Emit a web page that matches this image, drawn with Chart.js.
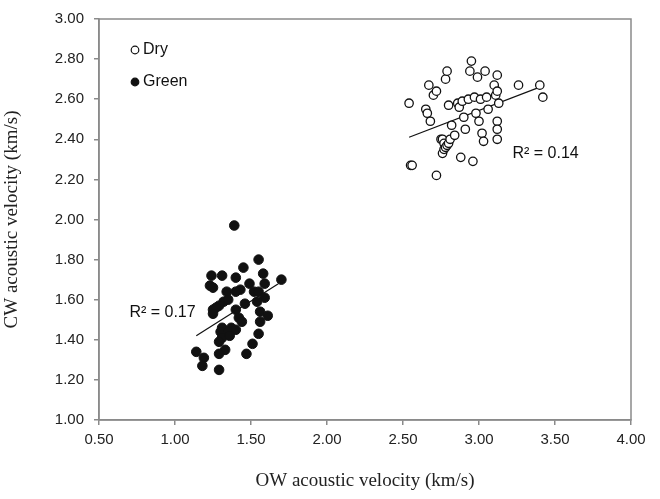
<!DOCTYPE html>
<html>
<head>
<meta charset="utf-8">
<script src="https://cdn.jsdelivr.net/npm/chart.js@4/dist/chart.umd.min.js"></script>
<style>
  body { margin: 0; background: #fff; }
  #wrap { width: 660px; height: 499px; }
</style>
</head>
<body>
<div id="wrap"><canvas id="chart" width="660" height="499"></canvas></div>
<script>
// OW (x) / CW (y) acoustic velocity, km/s
const dryX = [2.54, 2.55, 2.56, 2.65, 2.66, 2.67, 2.68, 2.70, 2.72, 2.72, 2.75, 2.76, 2.77, 2.76, 2.77, 2.78, 2.79, 2.80, 2.81,
  2.78, 2.79, 2.80, 2.82, 2.84, 2.86, 2.87, 2.89, 2.90, 2.88, 2.91, 2.93, 2.94, 2.95, 2.96, 2.97, 2.98, 2.99, 3.00, 3.01,
  3.02, 3.03, 3.04, 3.05, 3.06, 3.10, 3.11, 3.12, 3.13, 3.12, 3.12, 3.12, 3.12, 3.26, 3.40, 3.42];
const dryY = [2.58, 2.27, 2.27, 2.55, 2.53, 2.67, 2.49, 2.62, 2.64, 2.22, 2.40, 2.40, 2.38, 2.33, 2.35, 2.36, 2.37, 2.38, 2.40,
  2.70, 2.74, 2.57, 2.47, 2.42, 2.58, 2.56, 2.59, 2.51, 2.31, 2.45, 2.60, 2.74, 2.79, 2.29, 2.61, 2.53, 2.71, 2.49, 2.60,
  2.43, 2.39, 2.74, 2.61, 2.55, 2.67, 2.62, 2.72, 2.58, 2.49, 2.45, 2.40, 2.64, 2.67, 2.67, 2.61];

const greenX = [1.39, 1.55, 1.45, 1.24, 1.31, 1.40, 1.58, 1.70, 1.23, 1.25, 1.49, 1.59, 1.34, 1.43, 1.40, 1.52, 1.55, 1.59,
  1.32, 1.35, 1.54, 1.29, 1.46, 1.25, 1.27, 1.40, 1.56, 1.61, 1.25, 1.42, 1.44, 1.56, 1.31, 1.37, 1.30, 1.35, 1.40, 1.31,
  1.36, 1.55, 1.29, 1.51, 1.33, 1.14, 1.29, 1.47, 1.19, 1.18, 1.29];
const greenY = [1.97, 1.80, 1.76, 1.72, 1.72, 1.71, 1.73, 1.70, 1.67, 1.66, 1.68, 1.68, 1.64, 1.65, 1.64, 1.64, 1.64, 1.61,
  1.59, 1.60, 1.59, 1.57, 1.58, 1.55, 1.56, 1.55, 1.54, 1.52, 1.53, 1.51, 1.49, 1.49, 1.46, 1.46, 1.44, 1.44, 1.45, 1.41,
  1.42, 1.43, 1.39, 1.38, 1.35, 1.34, 1.33, 1.33, 1.31, 1.27, 1.25];

// fitted trend lines (end points)
const dryTrendX = [2.54, 3.40];
const dryTrendY = [2.41, 2.66];
const greenTrendX = [1.14, 1.68];
const greenTrendY = [1.42, 1.68];

const xTicks = [0.5, 1.0, 1.5, 2.0, 2.5, 3.0, 3.5, 4.0];
const yTicks = [1.0, 1.2, 1.4, 1.6, 1.8, 2.0, 2.2, 2.4, 2.6, 2.8, 3.0];

// R² labels: [x, y, text]
const r2Labels = [
  [3.22, 2.33, 'R\u00B2 = 0.14'],
  [0.70, 1.535, 'R\u00B2 = 0.17']
];

function toPoints(xs, ys) {
  return xs.map((x, i) => ({ x: x, y: ys[i] }));
}

const axisGray = '#8a8a8a';
const tickFont = { family: "'Liberation Sans', Arial, sans-serif", size: 15 };
const titleFont = { family: "'Liberation Serif', 'Times New Roman', serif", size: 19 };

// box around plot, legend and R² labels
const extras = {
  id: 'extras',
  beforeDatasetsDraw(chart) {
    const a = chart.chartArea;
    const ctx = chart.ctx;
    ctx.save();
    ctx.strokeStyle = axisGray;
    ctx.lineWidth = 1.5;
    ctx.strokeRect(a.left, a.top, a.right - a.left, a.bottom - a.top);
    ctx.restore();
  },
  afterDraw(chart) {
    const ctx = chart.ctx;
    const xs = chart.scales.x, ys = chart.scales.y;
    ctx.save();
    ctx.font = "16px 'Liberation Sans', Arial, sans-serif";
    ctx.fillStyle = '#111';
    ctx.textBaseline = 'middle';
    r2Labels.forEach(l => ctx.fillText(l[2], xs.getPixelForValue(l[0]), ys.getPixelForValue(l[1])));

    // legend
    const items = chart.data.datasets.filter(d => d.type !== 'line');
    const lx = chart.chartArea.left + 36;
    let ly = chart.chartArea.top + 31;
    items.forEach(d => {
      ctx.beginPath();
      ctx.arc(lx, ly, 3.8, 0, Math.PI * 2);
      ctx.fillStyle = d.backgroundColor;
      ctx.fill();
      ctx.lineWidth = 1.2;
      ctx.strokeStyle = '#111';
      ctx.stroke();
      ctx.fillStyle = '#111';
      ctx.fillText(d.label, lx + 8, ly);
      ly += 32;
    });
    ctx.restore();
  }
};

new Chart(document.getElementById('chart'), {
  type: 'scatter',
  data: {
    datasets: [
      {
        label: 'Dry',
        data: toPoints(dryX, dryY),
        backgroundColor: '#ffffff',
        borderColor: '#111',
        borderWidth: 1.3,
        pointRadius: 4.2
      },
      {
        label: 'Green',
        data: toPoints(greenX, greenY),
        backgroundColor: '#111',
        borderColor: '#111',
        borderWidth: 1,
        pointRadius: 4.8
      },
      {
        type: 'line',
        label: 'Dry trend',
        data: toPoints(dryTrendX, dryTrendY),
        borderColor: '#111',
        borderWidth: 1.2,
        pointRadius: 0,
        fill: false
      },
      {
        type: 'line',
        label: 'Green trend',
        data: toPoints(greenTrendX, greenTrendY),
        borderColor: '#111',
        borderWidth: 1.2,
        pointRadius: 0,
        fill: false
      }
    ]
  },
  options: {
    responsive: false,
    animation: false,
    layout: { padding: { top: 16, right: 29, left: 0, bottom: 0 } },
    plugins: {
      legend: { display: false },
      tooltip: { enabled: false }
    },
    scales: {
      x: {
        type: 'linear',
        min: 0.5,
        max: 4.0,
        afterBuildTicks: s => { s.ticks = xTicks.map(v => ({ value: v })); },
        afterFit: s => { s.height = 79; },
        grid: { display: true, drawOnChartArea: false, drawTicks: true, tickLength: 5, color: axisGray, lineWidth: 1.5 },
        border: { display: true, color: axisGray, width: 1.5 },
        ticks: { color: '#222', font: tickFont, padding: 6, maxRotation: 0, callback: v => v.toFixed(2) },
        title: { display: true, text: 'OW acoustic velocity (km/s)', color: '#222', font: titleFont, padding: { top: 0, bottom: 7 } }
      },
      y: {
        type: 'linear',
        min: 1.0,
        max: 3.0,
        afterBuildTicks: s => { s.ticks = yTicks.map(v => ({ value: v })); },
        afterFit: s => { s.width = 99; },
        grid: { display: true, drawOnChartArea: false, drawTicks: true, tickLength: 5, color: axisGray, lineWidth: 1.5 },
        border: { display: true, color: axisGray, width: 1.5 },
        ticks: { color: '#222', font: tickFont, padding: 10, callback: v => v.toFixed(2) },
        title: { display: true, text: 'CW acoustic velocity (km/s)', color: '#222', font: titleFont, padding: { top: 1, bottom: 0 } }
      }
    }
  },
  plugins: [extras]
});
</script>
</body>
</html>
